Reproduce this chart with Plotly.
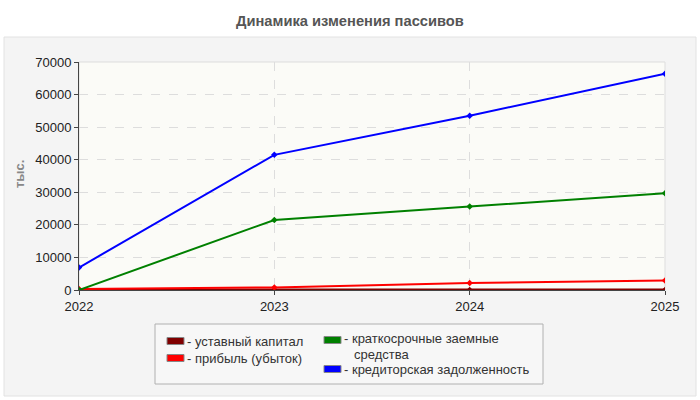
import plotly.graph_objects as go

years = [2022, 2023, 2024, 2025]
ustavny = [10, 10, 10, 10]
pribyl = [300, 800, 2150, 2900]
kratkosroch = [0, 21500, 25600, 29700]
kreditor = [6900, 41500, 53500, 66400]

series_names = ["уставный капитал", "прибыль (убыток)",
                "краткосрочные заемные<br>средства", "кредиторская задолженность"]
series_colors = ["#800000", "#ff0000", "#008000", "#0000ff"]
series_values = [ustavny, pribyl, kratkosroch, kreditor]
line_widths = [3, 2, 2, 2]

W, H = 700, 400
L, R, T, B = 79, 35, 62, 110
pw, ph = W - L - R, H - T - B

def px(x):
    return (x - L) / pw

def py(y):
    return (H - B - y) / ph

fig = go.Figure()
for name, col, vals, lw in zip(series_names, series_colors, series_values, line_widths):
    fig.add_trace(go.Scatter(x=years, y=vals, mode="lines+markers", name=name,
                             line=dict(color=col, width=lw),
                             marker=dict(symbol="diamond", size=5, color=col),
                             showlegend=False))

shapes = []
# outer panel
shapes.append(dict(type="rect", xref="paper", yref="paper", layer="below",
                   x0=px(4), x1=px(696), y0=py(396), y1=py(37),
                   fillcolor="#f4f4f4", line=dict(color="#e2e2e2", width=1)))
# plot area background
shapes.append(dict(type="rect", xref="paper", yref="paper", layer="below",
                   x0=0, x1=1, y0=0, y1=1,
                   fillcolor="#fbfbf7", line=dict(color="#dddddd", width=1)))
# legend box
shapes.append(dict(type="rect", xref="paper", yref="paper", layer="above",
                   x0=px(155), x1=px(543), y0=py(384), y1=py(324),
                   fillcolor="#f7f7f7", line=dict(color="#b0b0b0", width=1)))

annotations = []
legend_pos = [(167, 341), (167, 358), (324, 340), (324, 369)]
for (lx, ly), name, col in zip(legend_pos, series_names, series_colors):
    shapes.append(dict(type="rect", xref="paper", yref="paper", layer="above",
                       x0=px(lx), x1=px(lx + 17), y0=py(ly + 3.5), y1=py(ly - 3.5),
                       fillcolor=col, line=dict(color="#888888", width=1)))
    if "<br>" in name:
        a, b = name.split("<br>")
        annotations.append(dict(xref="paper", yref="paper", x=px(lx + 18), y=py(ly - 1.5),
                                text="- " + a, showarrow=False, xanchor="left",
                                yanchor="middle", font=dict(size=13, color="#333333")))
        annotations.append(dict(xref="paper", yref="paper", x=px(lx + 28), y=py(ly + 14),
                                text=b, showarrow=False, xanchor="left",
                                yanchor="middle", font=dict(size=13, color="#333333")))
    else:
        annotations.append(dict(xref="paper", yref="paper", x=px(lx + 18), y=py(ly),
                                text="- " + name, showarrow=False, xanchor="left",
                                yanchor="middle", font=dict(size=13, color="#333333")))

annotations.append(dict(xref="paper", yref="paper", x=px(350), y=py(21),
                        text="<b>Динамика изменения пассивов</b>", showarrow=False,
                        xanchor="center", yanchor="middle",
                        font=dict(size=14.7, color="#555555")))
annotations.append(dict(xref="paper", yref="paper", x=px(19), y=py(174),
                        text="<b>тыс.</b>", showarrow=False, textangle=-90,
                        xanchor="center", yanchor="middle",
                        font=dict(size=13, color="#888888")))

fig.update_layout(
    width=W, height=H,
    margin=dict(l=L, r=R, t=T, b=B),
    paper_bgcolor="white",
    plot_bgcolor="rgba(0,0,0,0)",
    font=dict(family="Liberation Sans, Arial, sans-serif", size=13, color="#222222"),
    shapes=shapes,
    annotations=annotations,
    showlegend=False,
)
fig.update_xaxes(range=[2022, 2025], tickvals=years, ticktext=[str(y) for y in years],
                 showgrid=True, gridcolor="#dddddd", griddash="dash",
                 showline=True, linecolor="#444444", linewidth=1,
                 ticks="outside", ticklen=4, tickcolor="#444444",
                 zeroline=False, tickfont=dict(size=13, color="#222222"))
fig.update_yaxes(range=[0, 70000], dtick=10000, tickformat="d",
                 showgrid=True, gridcolor="#dddddd", griddash="dash",
                 showline=True, linecolor="#444444", linewidth=1,
                 ticks="outside", ticklen=4, tickcolor="#444444",
                 zeroline=False, tickfont=dict(size=13, color="#222222"))

fig.write_html("out.html", config={"displayModeBar": False},
               post_script="document.body.style.margin='0';")
